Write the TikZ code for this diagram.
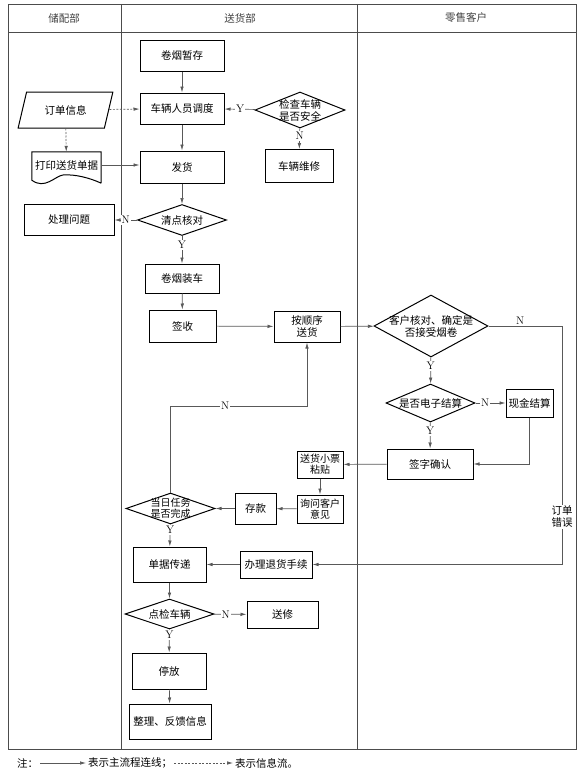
\documentclass[tikz,border=0pt]{standalone}
\usepackage{fontspec}
\newfontfamily\cjk{Noto Sans CJK SC}
\usetikzlibrary{shapes.geometric,arrows.meta}
\begin{document}
\begin{tikzpicture}[x=1pt,y=-1pt,
  txt/.style={font=\cjk\fontsize{10.5}{12}\selectfont},
  small/.style={font=\cjk\fontsize{10}{11}\selectfont},
  box/.style={draw,line width=1pt,inner sep=1pt,align=center,txt},
  dia/.style={diamond,draw,line width=1pt,inner sep=0pt},
  lane/.style={draw=black!70,line width=0.8pt},
  flow/.style={draw=black!65,line width=0.7pt,-{Latex[length=6pt,width=3.5pt]}},
  info/.style={flow,dash pattern=on 2pt off 1.5pt},
  yn/.style={fill=white,inner sep=1pt,font=\fontsize{11}{11}\selectfont}]
\useasboundingbox (0,0) rectangle (586,776);
\draw[lane] (8,4) rectangle (576,749); % frame
\draw[lane] (8,32) -- (576,32);
\draw[lane] (121,4) -- (121,749);
\draw[lane] (357,4) -- (357,749);
\node[txt,text=black!75] (h1) at (64,18) {储配部};
\node[txt,text=black!75] (h2) at (240,18) {送货部};
\node[txt,text=black!75] (h3) at (466,18) {零售客户};
% storage lane
\node[trapezium,trapezium left angle=65,trapezium right angle=115,trapezium stretches=true,
  draw,line width=1pt,minimum width=95,minimum height=36,inner sep=0pt,txt] (od) at (65.5,110) {订单信息};
\node[txt,minimum width=69,minimum height=26,inner sep=0pt] (prt) at (66.5,165) {打印送货单据};
\draw[line width=1pt] ([yshift=-5]prt.south east) -- (prt.north east) -- (prt.north west) -- ([yshift=-2]prt.south west)
  .. controls (45,190) and (55,176) .. (63,175) .. controls (75,174) and (90,178) .. ([yshift=-5]prt.south east); % document
\node[box,minimum width=90,minimum height=31] (cl) at (69,220) {处理问题};
% delivery lane
\node[box,minimum width=84,minimum height=31] (zc) at (182,56) {卷烟暂存};
\node[box,minimum width=84,minimum height=31] (dd) at (182,108.5) {车辆人员调度};
\node[dia,minimum width=90,minimum height=36,label={[txt,align=center]center:检查车辆\\是否安全}] (chk) at (300,110) {};
\node[box,minimum width=68,minimum height=33] (wx) at (299,166) {车辆维修};
\node[box,minimum width=84,minimum height=32] (fh) at (182,167) {发货};
\node[dia,minimum width=89,minimum height=31,label={[txt]center:清点核对}] (qd) at (182,220) {};
\node[box,minimum width=74,minimum height=29] (zc2) at (182,278.5) {卷烟装车};
\node[box,minimum width=67,minimum height=32] (qs) at (182.5,326) {签收};
\node[box,minimum width=66,minimum height=31] (ss) at (307,326.5) {按顺序\\送货};
\node[box,minimum width=46,minimum height=27,small] (tp) at (320,464.5) {送货小票\\粘贴};
\node[box,minimum width=46,minimum height=28,small] (yj) at (320,509) {询问客户\\意见};
\node[box,minimum width=41,minimum height=31] (ck) at (255.5,508.5) {存款};
\node[dia,minimum width=89,minimum height=31,label={[small,align=center]center:当日任务\\是否完成}] (rw) at (170.5,508.5) {};
\node[box,minimum width=73,minimum height=35] (dj) at (169.5,564.5) {单据传递};
\node[box,minimum width=72,minimum height=27] (th) at (276,564.5) {办理退货手续};
\node[dia,minimum width=89,minimum height=30,label={[txt]center:点检车辆}] (jc) at (169.5,614) {};
\node[box,minimum width=71,minimum height=27] (sx) at (282.5,614.5) {送修};
\node[box,minimum width=74,minimum height=36] (tf) at (169,671) {停放};
\node[box,minimum width=82,minimum height=35] (zl) at (170,721.5) {整理、反馈信息};
% customer lane
\node[dia,minimum width=114,minimum height=62,label={[txt,align=center]center:客户核对、确定是\\否接受烟卷}] (kh) at (431,326) {};
\node[dia,minimum width=89,minimum height=38,label={[txt]center:是否电子结算}] (dz) at (430.5,403) {};
\node[box,minimum width=47,minimum height=28] (xj) at (529.5,403) {现金结算};
\node[box,minimum width=86,minimum height=30] (qr) at (430,464) {签字确认};
\coordinate (ne) at (562,326);
\coordinate (nl) at (170.5,406);
% connectors
\draw[flow] (zc) -- (dd);
\draw[flow] (chk) -- node[yn]{Y} (dd);
\draw[flow] (chk) -- node[yn,pos=0.36]{N} (wx);
\draw[info] (od) -- (dd);
\draw[info] (od) -- (prt);
\draw[flow] (prt.east) -- (fh.west |- prt.east);
\draw[flow] (dd) -- (fh);
\draw[flow] (fh) -- (qd);
\draw[flow] (qd) -- node[yn]{N} (cl);
\draw[flow] (qd) -- node[yn,pos=0.32]{Y} (zc2);
\draw[flow] (zc2) -- (qs);
\draw[flow] (qs) -- (ss);
\draw[flow] (ss) -- (kh);
\draw[flow] (kh.east) -- node[yn,fill=none,above,pos=0.43]{N} (ne)
  |- node[txt,fill=white,align=center,inner sep=1pt,pos=0.4]{订单\\错误} (th.east);
\draw[flow] (kh) -- node[yn,pos=0.33]{Y} (dz);
\draw[flow] (dz) -- node[yn,pos=0.32]{N} (xj);
\draw[flow] (xj.south) |- (qr.east);
\draw[flow] (dz) -- node[yn,pos=0.33]{Y} (qr);
\draw[flow] (qr) -- (tp);
\draw[flow] (tp) -- (yj);
\draw[flow] (yj) -- (ck);
\draw[flow] (ck) -- (rw);
\draw[flow] (rw.north) -- (nl) -| node[yn,pos=0.2]{N} (ss.south);
\draw[flow] (rw) -- node[yn,pos=0.26]{Y} (dj);
\draw[flow] (th) -- (dj);
\draw[flow] (dj) -- (jc);
\draw[flow] (jc) -- node[yn,pos=0.36]{N} (sx);
\draw[flow] (jc) -- node[yn,pos=0.25]{Y} (tf);
\draw[flow] (tf) -- (zl);
% legend
\node[txt,anchor=west,inner sep=2pt] (note) at (15,763) {注：};
\node[txt,anchor=west,inner sep=2pt] (lg1) at (86,763) {表示主流程连线；};
\node[txt,anchor=west,inner sep=2pt] (lg2) at (233,763) {表示信息流。};
\draw[flow] (note) -- (lg1);
\draw[info] (lg1) -- (lg2);
\end{tikzpicture}
\end{document}
